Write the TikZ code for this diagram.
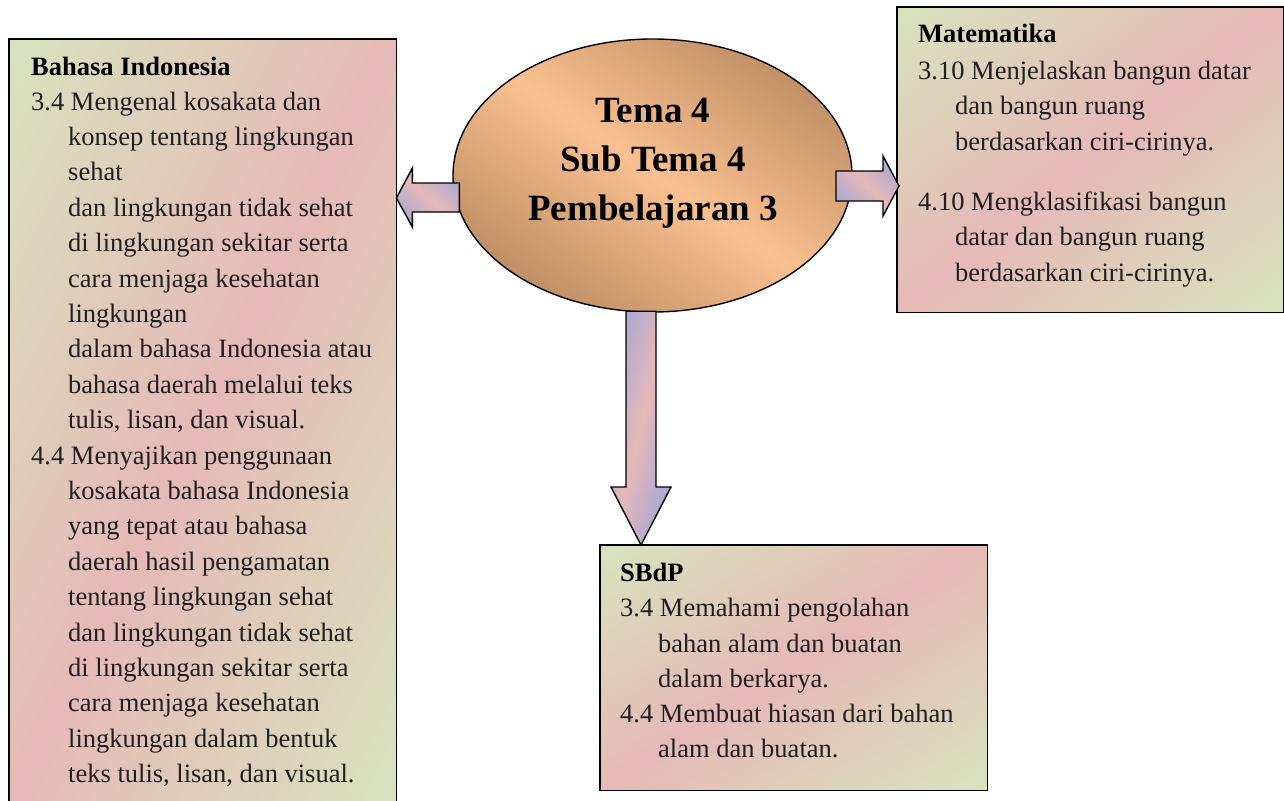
\documentclass[tikz,border=0pt]{standalone}
\usepackage{fontspec}
\setmainfont{Liberation Serif}
\usetikzlibrary{calc,shapes.geometric}
\definecolor{boxgreen}{HTML}{D7E4BD}
\definecolor{boxpink}{HTML}{E6B9B8}
\definecolor{arrblue}{HTML}{95A3DC}
\definecolor{ellight}{HTML}{FAC090}
\definecolor{eldark}{HTML}{A87C55}
% mirrored diagonal gradient made of stripes inside a path picture
% #1 end colour, #2 middle colour, #3 = 1 (ends at top-left and bottom-right) or -1 (ends at top-right and bottom-left)
\newcommand\stripefill[3]{%
  \coordinate (ppnw) at (path picture bounding box.north west);
  \coordinate (ppne) at (path picture bounding box.north east);
  \coordinate (ppsw) at (path picture bounding box.south west);
  \coordinate (ppse) at (path picture bounding box.south east);
  \ifnum#3=1
    \coordinate (ppA) at (ppnw); \coordinate (ppB) at (ppse);
    \coordinate (ppD) at ($(ppne)-(ppsw)$);
  \else
    \coordinate (ppA) at (ppne); \coordinate (ppB) at (ppsw);
    \coordinate (ppD) at ($(ppnw)-(ppse)$);
  \fi
  \foreach \si in {0,...,79}{%
    \pgfmathsetmacro\sta{\si/80-0.003}%
    \pgfmathsetmacro\stb{(\si+1)/80+0.003}%
    \pgfmathsetmacro\spc{100*(1-abs(1-2*(\si+0.5)/80))}%
    \fill[#2!\spc!#1] ($(ppA)!\sta!(ppB)+(ppD)$) -- ($(ppA)!\stb!(ppB)+(ppD)$)
      -- ($(ppA)!\stb!(ppB)-(ppD)$) -- ($(ppA)!\sta!(ppB)-(ppD)$) -- cycle;
  }}
\begin{document}
\begin{tikzpicture}[x=1pt,y=-1pt,
  dshade/.style n args={3}{path picture={\stripefill{#1}{#2}{#3}}},
  boxgeom/.style={draw=none, inner sep=0pt, anchor=north west},
  boxline/.style={draw=black, line width=1.8pt},
  txt/.style={anchor=base west, inner sep=0pt, font=\fontsize{26.5}{30}\selectfont, text=black!88},
  ttl/.style={anchor=base west, inner sep=0pt, font=\fontsize{26.5}{30}\selectfont\bfseries, text=black},
  eltxt/.style={anchor=base, inner sep=0pt, font=\fontsize{37}{44}\selectfont\bfseries, text=black},
  blockarrow/.style={draw=black, line width=1.4pt, line join=miter},
]
\useasboundingbox (0,0) rectangle (1284,800);
% boxes
\node[boxgeom, minimum width=387, minimum height=775] (bi) at (9,39) {};
\node[boxgeom, minimum width=386, minimum height=305] (mat) at (897,7) {};
\node[boxgeom, minimum width=387, minimum height=245] (sb) at (600,545) {};
\path[boxline, dshade={boxgreen}{boxpink}{1}] (bi.north west) rectangle (bi.south east);
\path[boxline, dshade={boxgreen}{boxpink}{1}] (mat.north west) rectangle (mat.south east);
\path[boxline, dshade={boxgreen}{boxpink}{1}] (sb.north west) rectangle (sb.south east);
% ellipse
\node[ellipse, draw=none, minimum width=399, minimum height=273, inner sep=0pt] (el) at (652.5,175.5) {};
\path[draw=black, line width=1.4pt, dshade={eldark}{ellight}{-1}]
  (el.center) ellipse [x radius=199.5, y radius=136.5];
\node[eltxt] (el1) at (653,122) {Tema 4};
\node[eltxt] (el2) at (653,171.5) {Sub Tema 4};
\node[eltxt] (el3) at (653,220) {Pembelajaran 3};
% left arrow
\coordinate (lt) at ($(bi.north east)+(0,159)$);
\path[blockarrow, dshade={arrblue}{boxpink}{-1}] (lt) -- ++(16,-30) -- ++(0,15) -- ++(47,0) -- ++(0,29)
  -- ++(-47,0) -- ++(0,15) -- cycle;
% right arrow
\coordinate (rt) at ($(mat.north west)+(2,179)$);
\path[blockarrow, dshade={arrblue}{boxpink}{-1}] (rt) -- ++(-16,-30) -- ++(0,15) -- ++(-47,0) -- ++(0,30)
  -- ++(47,0) -- ++(0,15) -- cycle;
% down arrow
\coordinate (dt) at ($(sb.north west)+(41,0)$);
\coordinate (dtop) at (dt |- el.south);
\path[blockarrow, dshade={arrblue}{boxpink}{1}] (dt) -- ($(dt)+(-30,-58)$) -- ($(dt)+(-15,-58)$)
  -- ($(dtop)+(-15,-1)$) -- ($(dtop)+(15,-1)$) -- ($(dt)+(15,-58)$) -- ($(dt)+(30,-58)$) -- cycle;
% Bahasa Indonesia text
\node[ttl] (bi0) at (31,75) {Bahasa Indonesia};
\node[txt] (bi1) at (31,110) {3.4 Mengenal kosakata dan};
\node[txt] (bi2) at (68,145.4) {konsep tentang lingkungan};
\node[txt] (bi3) at (68,180.8) {sehat};
\node[txt] (bi4) at (68,216.2) {dan lingkungan tidak sehat};
\node[txt] (bi5) at (68,251.6) {di lingkungan sekitar serta};
\node[txt] (bi6) at (68,287.0) {cara menjaga kesehatan};
\node[txt] (bi7) at (68,322.4) {lingkungan};
\node[txt] (bi8) at (68,357.8) {dalam bahasa Indonesia atau};
\node[txt] (bi9) at (68,393.2) {bahasa daerah melalui teks};
\node[txt] (bi10) at (68,428.6) {tulis, lisan, dan visual.};
\node[txt] (bi11) at (31,464.0) {4.4 Menyajikan penggunaan};
\node[txt] (bi12) at (68,499.4) {kosakata bahasa Indonesia};
\node[txt] (bi13) at (68,534.8) {yang tepat atau bahasa};
\node[txt] (bi14) at (68,570.2) {daerah hasil pengamatan};
\node[txt] (bi15) at (68,605.6) {tentang lingkungan sehat};
\node[txt] (bi16) at (68,641.0) {dan lingkungan tidak sehat};
\node[txt] (bi17) at (68,676.4) {di lingkungan sekitar serta};
\node[txt] (bi18) at (68,711.8) {cara menjaga kesehatan};
\node[txt] (bi19) at (68,747.2) {lingkungan dalam bentuk};
\node[txt] (bi20) at (68,782.6) {teks tulis, lisan, dan visual.};
% Matematika text
\node[ttl] (m0) at (918,43) {Matematika};
\node[txt] (m1) at (918,79) {3.10 Menjelaskan bangun datar};
\node[txt] (m2) at (955,114.5) {dan bangun ruang};
\node[txt] (m3) at (955,150) {berdasarkan ciri-cirinya.};
\node[txt] (m4) at (918,210) {4.10 Mengklasifikasi bangun};
\node[txt] (m5) at (955,245.5) {datar dan bangun ruang};
\node[txt] (m6) at (955,281) {berdasarkan ciri-cirinya.};
% SBdP text
\node[ttl] (s0) at (620,581) {SBdP};
\node[txt] (s1) at (620,616) {3.4 Memahami pengolahan};
\node[txt] (s2) at (658,652) {bahan alam dan buatan};
\node[txt] (s3) at (658,687) {dalam berkarya.};
\node[txt] (s4) at (620,722) {4.4 Membuat hiasan dari bahan};
\node[txt] (s5) at (658,757) {alam dan buatan.};
\end{tikzpicture}
\end{document}
